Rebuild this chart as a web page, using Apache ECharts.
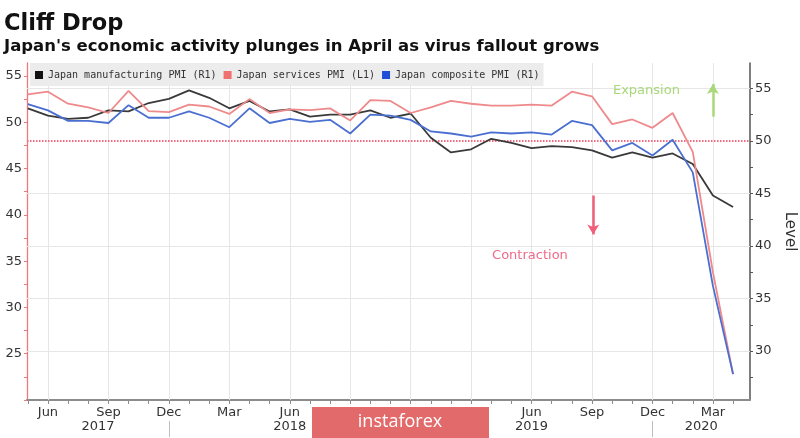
<!DOCTYPE html>
<html><head><meta charset="utf-8">
<script src="https://cdn.jsdelivr.net/npm/echarts@6/dist/echarts.min.js"></script>
<style>html,body{margin:0;padding:0;background:#fff}#c{width:800px;height:438px}</style>
</head><body><div id="c"></div>
<script>
// ---- data ----
const months = ['2017-05','2017-06','2017-07','2017-08','2017-09','2017-10','2017-11','2017-12',
  '2018-01','2018-02','2018-03','2018-04','2018-05','2018-06','2018-07','2018-08','2018-09','2018-10','2018-11','2018-12',
  '2019-01','2019-02','2019-03','2019-04','2019-05','2019-06','2019-07','2019-08','2019-09','2019-10','2019-11','2019-12',
  '2020-01','2020-02','2020-03','2020-04'];
const manufacturing = [53.1,52.4,52.1,52.2,52.9,52.8,53.6,54.0,54.8,54.1,53.1,53.8,52.8,53.0,52.3,52.5,52.5,52.9,52.2,52.6,
  50.3,48.9,49.2,50.2,49.8,49.3,49.5,49.4,49.1,48.4,48.9,48.4,48.8,47.8,44.8,43.7];
const services = [53.0,53.3,52.0,51.6,51.0,53.4,51.2,51.1,51.9,51.7,50.9,52.5,51.0,51.4,51.3,51.5,50.2,52.4,52.3,51.0,
  51.6,52.3,52.0,51.8,51.8,51.9,51.8,53.3,52.8,49.8,50.3,49.4,51.0,46.8,33.8,22.8];
const composite = [53.5,52.9,51.9,51.9,51.7,53.4,52.2,52.2,52.8,52.2,51.3,53.1,51.7,52.1,51.8,52.0,50.7,52.5,52.4,52.0,
  50.9,50.7,50.4,50.8,50.7,50.8,50.6,51.9,51.5,49.1,49.8,48.6,50.1,47.0,36.2,27.8];
const seriesNames = ['Japan manufacturing PMI (R1)','Japan services PMI (L1)','Japan composite PMI (R1)'];
const leftLabels = [25,30,35,40,45,50,55];
const leftTicks = [20,22.5,25,27.5,30,32.5,35,37.5,40,42.5,45,47.5,50,52.5,55];
const rightLabels = [30,35,40,45,50,55];
const rightTicks = [27.5,30,32.5,35,37.5,40,42.5,45,47.5,50,52.5,55];
const gridValues = [30,35,40,45,55];
const threshold = 50;
const monthNames = ['Jan','Feb','Mar','Apr','May','Jun','Jul','Aug','Sep','Oct','Nov','Dec'];
const expansionArrow = [52.3, 55.4];   // R1 values, at month index 34
const contractionArrow = [44.8, 41.1]; // R1 values, at month index 28

// ---- derived ----
const X_MIN = -0.04, X_MAX = 35.84;
const idx = months.map((m,i)=>i);
const mon = m => +m.slice(5);
const quarterIdx = idx.filter(i => mon(months[i]) % 3 === 0);
const decIdx = idx.filter(i => mon(months[i]) === 12);
const yearNames = [...new Set(months.map(m=>m.slice(0,4)))];
const bounds = [X_MIN, ...decIdx, X_MAX];
const yearPos = yearNames.map((y,k)=> (bounds[k]+bounds[k+1])/2);
const FONT = 'DejaVu Sans';
const pairs = arr => arr.map((v,i)=>[i,v]);

const chart = echarts.init(document.getElementById('c'), null, {renderer:'canvas'});
const axisBase = {type:'value', min:X_MIN, max:X_MAX, position:'bottom', splitLine:{show:false}};
chart.setOption({
  animation:false,
  backgroundColor:'#fff',
  title:[
    {text:'Cliff Drop', left:4, top:13, padding:0, textStyle:{fontSize:22.5, fontWeight:'bold', color:'#111', fontFamily:FONT}},
    {text:"Japan's economic activity plunges in April as virus fallout grows", left:4, top:38, padding:0,
     textStyle:{fontSize:16.5, fontWeight:'bold', color:'#111', fontFamily:FONT}}
  ],
  legend:{
    left:30, top:63, padding:[7,4,6,5], itemGap:7, itemWidth:8, itemHeight:8, icon:'rect',
    backgroundColor:'#ececec', data:seriesNames,
    textStyle:{fontFamily:'DejaVu Sans Mono', fontSize:10, color:'#333'}
  },
  grid:{left:27, right:50, top:63, bottom:38, outerBoundsMode:'none'},
  xAxis:[
    Object.assign({}, axisBase, {
      axisLine:{show:true, onZero:false, lineStyle:{color:'#8c8c8c', width:2}},
      axisTick:{show:true, customValues:idx, length:4, lineStyle:{color:'#8c8c8c'}},
      axisLabel:{customValues:quarterIdx, formatter:v=>monthNames[mon(months[Math.round(v)])-1],
        color:'#333', fontSize:13, margin:6, fontFamily:FONT}
    }),
    Object.assign({}, axisBase, {
      offset:21, axisLine:{show:false, onZero:false},
      axisTick:{show:true, customValues:decIdx, length:16, lineStyle:{color:'#bdbdbd'}},
      axisLabel:{show:false}
    }),
    Object.assign({}, axisBase, {
      offset:14, axisLine:{show:false, onZero:false}, axisTick:{show:false},
      axisLabel:{customValues:yearPos, formatter:v=>{let k=0,d=1e9;yearPos.forEach((p,j)=>{if(Math.abs(p-v)<d){d=Math.abs(p-v);k=j;}});return yearNames[k];},
        color:'#333', fontSize:13, margin:6, fontFamily:FONT}
    })
  ],
  yAxis:[
    {type:'value', position:'left', min:20, max:56.4,
     axisLine:{show:true, onZero:false, lineStyle:{color:'#f07878', width:1.3}},
     axisTick:{show:true, customValues:leftTicks, length:3, lineStyle:{color:'#f07878'}},
     axisLabel:{customValues:leftLabels, color:'#333', fontSize:13, margin:5, fontFamily:FONT},
     splitLine:{show:false}},
    {type:'value', position:'right', min:25.34, max:57.41,
     name:'Level', nameLocation:'middle', nameGap:27, nameRotate:-90,
     nameTextStyle:{fontSize:15, color:'#333', fontFamily:FONT},
     axisLine:{show:true, onZero:false, lineStyle:{color:'#555', width:1.5}},
     axisTick:{show:true, customValues:rightTicks, length:3, lineStyle:{color:'#555'}},
     axisLabel:{customValues:rightLabels, color:'#333', fontSize:13, margin:5, fontFamily:FONT},
     splitLine:{show:false}}
  ],
  series:[
    {name:seriesNames[0], type:'line', yAxisIndex:1, data:pairs(manufacturing), showSymbol:false, z:3,
     itemStyle:{color:'#111'}, lineStyle:{color:'#3a3a3a', width:1.8},
     markLine:{silent:true, z:1, symbol:['none','none'], label:{show:false}, animation:false,
       data:[
         ...gridValues.map(v=>({yAxis:v, lineStyle:{color:'#e6e6e6', width:1, type:'solid'}})),
         ...quarterIdx.map(v=>({xAxis:v, lineStyle:{color:'#e6e6e6', width:1, type:'solid'}})),
         {yAxis:threshold, lineStyle:{color:'#f06a80', width:2, type:[1.5,1.5]}},
         [{coord:[34, expansionArrow[0]], symbol:'none', lineStyle:{color:'#a8d878', width:2.5, type:'solid'}},
          {coord:[34, expansionArrow[1]], symbol:'arrow', symbolSize:[9,10]}],
         [{coord:[28.06, contractionArrow[0]], symbol:'none', lineStyle:{color:'#f0607a', width:2.5, type:'solid'}},
          {coord:[28.06, contractionArrow[1]], symbol:'arrow', symbolSize:[9,10]}]
       ]},
     markPoint:{silent:true, symbol:'circle', symbolSize:0, animation:false,
       data:[
         {coord:[30.7, 54.76], label:{show:true, position:'inside', formatter:'Expansion', color:'#a8d878', fontSize:13, fontFamily:FONT}},
         {coord:[24.92, 39.05], label:{show:true, position:'inside', formatter:'Contraction', color:'#f06a88', fontSize:13, fontFamily:FONT}}
       ]}
    },
    {name:seriesNames[1], type:'line', yAxisIndex:0, data:pairs(services), showSymbol:false, z:3,
     itemStyle:{color:'#f07070'}, lineStyle:{color:'#ee8a8c', width:1.8}},
    {name:seriesNames[2], type:'line', yAxisIndex:1, data:pairs(composite), showSymbol:false, z:3,
     itemStyle:{color:'#1f4fd6'}, lineStyle:{color:'#4a6fd0', width:1.8}}
  ],
  graphic:[
    {type:'rect', shape:{x:312, y:407, width:177, height:31}, style:{fill:'#e26a6a'}, z:100},
    {type:'text', x:400, y:422, z:101, style:{text:'instaforex', fill:'#fff', font:'18px "Open Sans"', align:'center', verticalAlign:'middle'}}
  ]
});
</script></body></html>
